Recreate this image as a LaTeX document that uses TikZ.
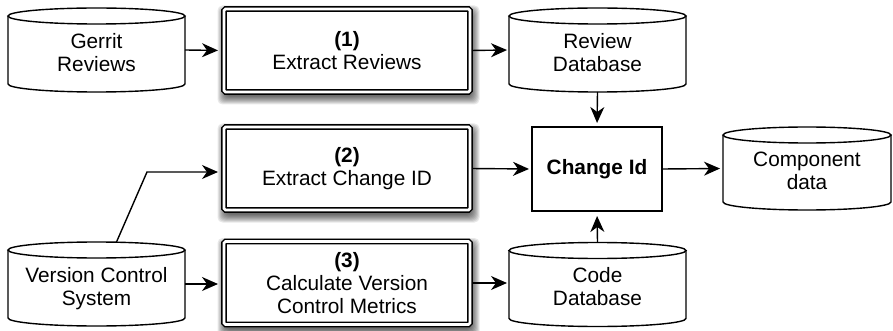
\documentclass[tikz,border=0pt]{standalone}
\usepackage{fontspec}
\setmainfont{Liberation Sans}
\usetikzlibrary{arrows.meta}
\pgfdeclarelayer{bg}
\pgfsetlayers{bg,main}
\newcommand\diagfont{\fontsize{20.8}{23}\selectfont}
\newcommand\cyltext[1]{\raisebox{-5pt}[\height][\depth]{\begin{tabular}{@{}c@{}}#1\end{tabular}}}
\newcommand\drawcyl[2]{%
  \draw[lw] ([yshift=-8pt]#1.north west) -- ([yshift=8pt]#1.south west)
    arc[start angle=180,end angle=360,x radius=#2pt,y radius=8pt]
    -- ([yshift=-8pt]#1.north east);
  \draw[lw] ([yshift=-8pt]#1.north) ellipse[x radius=#2pt,y radius=8pt];
}
\newcommand\boxshadow[1]{%
  \begin{pgfonlayer}{bg}
  \foreach \e in {0,...,8}{%
    \fill[black,opacity=0.09,rounded corners=5pt]
      ([xshift={(1.5-\e)*1pt},yshift={(-4.5-\e)*1pt}]#1.south west) rectangle
      ([xshift={(1.5+\e)*1pt},yshift={(-4.5+\e)*1pt}]#1.north east);}
  \end{pgfonlayer}}
\tikzset{
  lw/.style={line width=1.4pt},
  cylbox/.style={minimum width=177pt, minimum height=84pt, inner sep=0pt, outer sep=0pt, font=\diagfont},
  procbox/.style={draw, line width=1.5pt, double, double distance=2.6pt, fill=white,
    rounded corners=1.5pt, minimum width=246pt, minimum height=83pt, inner sep=0pt,
    outer sep=0pt, align=center, font=\diagfont},
  idbox/.style={draw, lw, minimum width=130pt, minimum height=84pt, inner sep=0pt, outer sep=0pt, font=\diagfont\bfseries},
  arr/.style={lw, ->, >={Stealth[length=16pt,width=14pt,inset=5pt]}},
}
\begin{document}
\begin{tikzpicture}[x=1pt,y=1pt]
\useasboundingbox (0,0) rectangle (893,-331);
% cylinders
\node[cylbox] (gerrit) at (96.5,-50) {\cyltext{Gerrit\\Reviews}};
\node[cylbox] (review) at (597.5,-50) {\cyltext{Review\\Database}};
\node[cylbox] (vcs) at (96.5,-284) {\cyltext{Version Control\\System}};
\node[cylbox] (code) at (597.5,-284.5) {\cyltext{Code\\Database}};
\node[cylbox, minimum width=168pt, minimum height=83pt] (comp) at (807,-168.5) {\cyltext{Component\\data}};
\drawcyl{gerrit}{88.5}
\drawcyl{review}{88.5}
\drawcyl{vcs}{88.5}
\drawcyl{code}{88.5}
\drawcyl{comp}{84}
% process boxes
\node[procbox] (box1) at (347,-50.5) {\textbf{(1)}\\Extract Reviews};
\node[procbox] (box2) at (347,-168.5) {\textbf{(2)}\\Extract Change ID};
\node[procbox] (box3) at (347,-283) {\textbf{(3)}\\Calculate Version\\Control Metrics};
\boxshadow{box1}
\boxshadow{box2}
\boxshadow{box3}
% change id
\node[idbox] (chg) at (597,-169) {Change Id};
% connectors
\draw[arr, shorten >=6pt] (gerrit.east) -- (box1.west);
\draw[arr, shorten <=3pt, shorten >=2pt] (box1.east) -- (review.west);
\draw[arr, shorten >=4pt] (review.south) -- (chg.north);
\coordinate (vcsout) at ([xshift=20pt]vcs.north);
\coordinate (bend) at (147,-172);
\draw[arr, shorten >=6pt] (vcsout) -- (bend) -- (bend -| box2.west);
\draw[arr, shorten <=3pt, shorten >=3pt] (box2.east) -- (chg.west);
\draw[arr, shorten >=3pt] (chg.east) -- (comp.west);
\draw[arr, shorten >=6pt] (vcs.east) -- (vcs.east -| box3.west);
\draw[arr, shorten <=3pt, shorten >=2pt] (box3.east) -- (box3.east -| code.west);
\draw[arr, shorten >=5pt] (code.north) -- (chg.south);
\end{tikzpicture}
\end{document}
